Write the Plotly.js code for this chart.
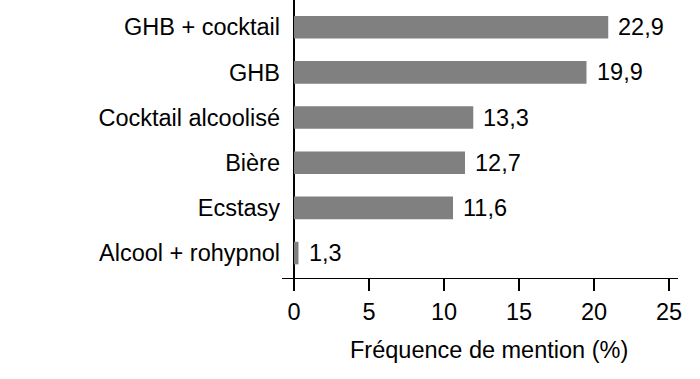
<!DOCTYPE html>
<html>
<head>
<meta charset="utf-8">
<script src="https://cdn.plot.ly/plotly-3.0.1.min.js"></script>
<style>html,body{margin:0;padding:0;background:#fff;}#chart{width:700px;height:379px;}</style>
</head>
<body>
<div id="chart"></div>
<script>
// Categories, top to bottom
const categories = ["GHB + cocktail", "GHB", "Cocktail alcoolisé", "Bière", "Ecstasy", "Alcool + rohypnol"];
// Bar lengths as drawn in the reference
const barLengths = [20.95, 19.5, 11.95, 11.4, 10.6, 0.3];
// Value labels printed next to the bars
const valueLabels = ["22,9", "19,9", "13,3", "12,7", "11,6", "1,3"];
const xTicks = [0, 5, 10, 15, 20, 25];
const xTitle = "Fréquence de mention (%)";

const FONT = "Liberation Sans, Arial, sans-serif";
const FS = 23.5;

const trace = {
  type: "bar",
  orientation: "h",
  x: barLengths,
  y: categories,
  marker: { color: "#808080", line: { width: 0 } },
  hoverinfo: "none"
};

const annotations = categories.map((c, i) => ({
  x: barLengths[i],
  y: c,
  xref: "x",
  yref: "y",
  text: valueLabels[i],
  showarrow: false,
  xanchor: "left",
  yanchor: "middle",
  xshift: 8,
  font: { family: FONT, size: FS, color: "#000" }
}));

// x-axis title (placed as an annotation to match the reference's horizontal offset)
annotations.push({
  x: 0.5,
  y: 0,
  xref: "paper",
  yref: "paper",
  text: xTitle,
  showarrow: false,
  xanchor: "center",
  yanchor: "middle",
  xshift: 9,
  yshift: -72,
  font: { family: FONT, size: FS, color: "#000" }
});

const layout = {
  width: 700,
  height: 379,
  margin: { l: 282, r: 22, t: 0, b: 101, pad: 0 },
  paper_bgcolor: "#fff",
  plot_bgcolor: "#fff",
  font: { family: FONT, size: FS, color: "#000" },
  showlegend: false,
  bargap: 0.5,
  xaxis: {
    range: [-0.8, 25.6],
    tickvals: xTicks,
    ticktext: xTicks.map(String),
    showgrid: false,
    zeroline: true,
    zerolinecolor: "#000",
    zerolinewidth: 1.3,
    layer: "above traces",
    showline: true,
    linecolor: "#000",
    linewidth: 1.3,
    ticks: "outside",
    ticklen: 12,
    tickwidth: 1.2,
    tickcolor: "#000",
    tickfont: { family: FONT, size: FS, color: "#000" },
    fixedrange: true
  },
  yaxis: {
    type: "category",
    categoryorder: "array",
    categoryarray: categories,
    range: [5.552, -0.603],
    showgrid: false,
    zeroline: false,
    showline: false,
    ticks: "",
    ticklabelstandoff: 1,
    tickfont: { family: FONT, size: FS, color: "#000" },
    fixedrange: true
  },
  annotations: annotations
};

Plotly.newPlot("chart", [trace], layout, { displayModeBar: false, staticPlot: true });
</script>
</body>
</html>
